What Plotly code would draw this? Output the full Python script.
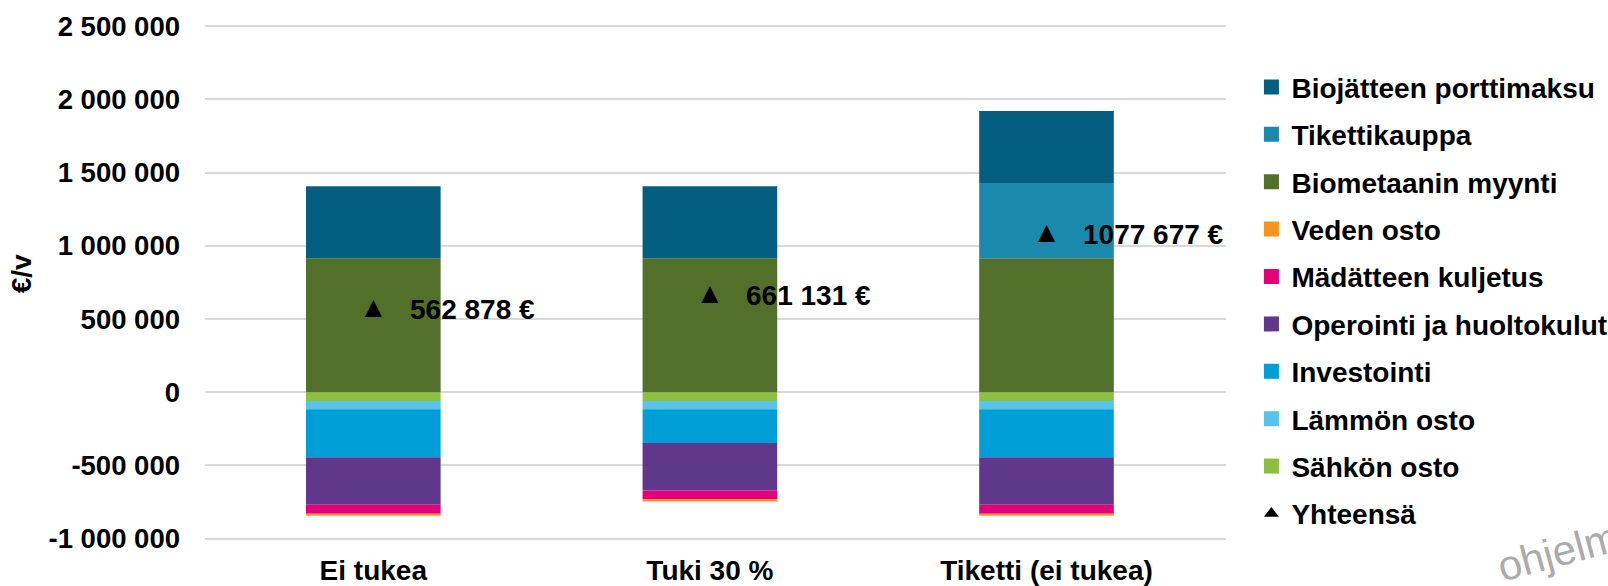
import plotly.graph_objects as go

# ---------------- data ----------------
categories = ["Ei tukea", "Tuki 30 %", "Tiketti (ei tukea)"]

sahkon_osto = [-60000, -60000, -60000]
lammon_osto = [-57000, -57000, -57000]
investointi = [-327510, -229257, -327510]
operointi = [-325000, -325000, -325000]
madatteen_kuljetus = [-60000, -60000, -60000]
veden_osto = [-14612, -14612, -14612]
biometaanin_myynti = [915000, 915000, 915000]
tikettikauppa = [0, 0, 514799]
biojatteen_porttimaksu = [492000, 492000, 492000]

yhteensa = [562878, 661131, 1077677]
yhteensa_labels = ["562 878 €", "661 131 €", "1077 677 €"]

y_tickvals = [-1000000, -500000, 0, 500000, 1000000, 1500000, 2000000, 2500000]
y_ticktext = ["-1 000 000", "-500 000", "0", "500 000", "1 000 000",
              "1 500 000", "2 000 000", "2 500 000"]

# stacking order (outward from zero)
bar_series = [
    ("Sähkön osto", sahkon_osto, "#8DBE40"),
    ("Lämmön osto", lammon_osto, "#56C4E8"),
    ("Investointi", investointi, "#009ED7"),
    ("Operointi ja huoltokulut", operointi, "#60388B"),
    ("Mädätteen kuljetus", madatteen_kuljetus, "#E2007A"),
    ("Veden osto", veden_osto, "#F7941D"),
    ("Biometaanin myynti", biometaanin_myynti, "#527029"),
    ("Tikettikauppa", tikettikauppa, "#1A89AB"),
    ("Biojätteen porttimaksu", biojatteen_porttimaksu, "#035E80"),
]

legend_order = ["Biojätteen porttimaksu", "Tikettikauppa", "Biometaanin myynti",
                "Veden osto", "Mädätteen kuljetus", "Operointi ja huoltokulut",
                "Investointi", "Lämmön osto", "Sähkön osto"]

FONT = "Liberation Sans, Arial, sans-serif"
FS = 28
FS_TICK = 27.5


def bold(size):
    return dict(family=FONT, size=size, color="black", weight="bold")


fig = go.Figure()
colors = {}
for name, vals, col in bar_series:
    colors[name] = col
    fig.add_trace(go.Bar(
        x=categories, y=vals, name=name, marker_color=col,
        marker_line_width=0, showlegend=False,
    ))

# total markers (triangle glyph)
fig.add_trace(go.Scatter(
    x=categories, y=yhteensa, mode="text", name="Yhteensä",
    text=["▲"] * len(categories), textposition="middle center",
    textfont=dict(family=FONT, size=29, color="black"),
    showlegend=False,
))

# legend entries
for i, name in enumerate(legend_order):
    fig.add_trace(go.Scatter(
        x=[None], y=[None], mode="markers", name=name,
        marker=dict(symbol="square", size=15, color=colors[name]),
        legendgroup=f"g{i}", showlegend=True,
    ))
fig.add_trace(go.Scatter(
    x=[None], y=[None], mode="markers", name="Yhteensä",
    marker=dict(symbol="triangle-up", size=13, color="black"),
    legendgroup="gY", showlegend=True,
))

for c, v, t in zip(categories, yhteensa, yhteensa_labels):
    fig.add_annotation(
        x=c, y=v, text=t, showarrow=False, xanchor="left", yanchor="middle",
        xshift=34.5, font=bold(FS),
    )

# y-axis title
fig.add_annotation(
    xref="paper", yref="paper", x=0, y=0.516, xshift=-184,
    text="€/v", textangle=-90, showarrow=False,
    xanchor="center", yanchor="middle", font=bold(FS),
)

# faint watermark text at the bottom-right corner
fig.add_annotation(
    xref="paper", yref="paper", x=1.337, y=-0.015,
    text="ohjelma", textangle=-15, showarrow=False,
    xanchor="center", yanchor="middle",
    font=dict(family=FONT, size=42, color="#ABABAB", weight="normal"),
)

fig.update_layout(
    width=1608, height=586,
    margin=dict(l=205, r=382, t=24, b=45, autoexpand=False),
    paper_bgcolor="white", plot_bgcolor="white",
    barmode="relative", bargap=0.6,
    font=bold(FS),
    legend=dict(
        x=1.0249, xanchor="left", y=0.9261, yanchor="top",
        traceorder="grouped", tracegroupgap=8.0,
        font=bold(FS),
        bgcolor="rgba(0,0,0,0)", borderwidth=0,
    ),
    xaxis=dict(
        showgrid=False, showline=False, zeroline=False, ticks="",
        tickfont=bold(FS), ticklabelstandoff=10, automargin=False,
    ),
    yaxis=dict(
        range=[-1016400, 2515700], tickvals=y_tickvals, ticktext=y_ticktext,
        showgrid=True, gridcolor="#D9D9D9", gridwidth=2,
        zeroline=True, zerolinecolor="#D9D9D9", zerolinewidth=2,
        showline=False, ticks="",
        tickfont=bold(FS_TICK), ticklabelstandoff=24, automargin=False,
    ),
)

fig.write_html(
    "out.html",
    config={"displayModeBar": False},
    post_script="document.body.style.margin='0';document.body.style.overflow='hidden';",
)
